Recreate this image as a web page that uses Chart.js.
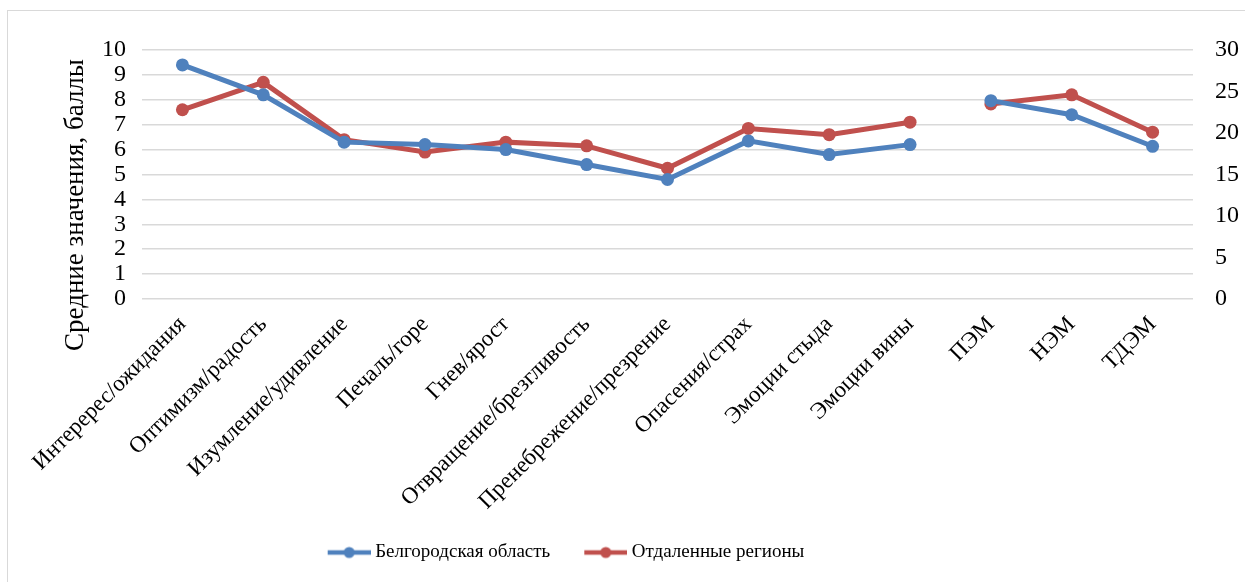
<!DOCTYPE html>
<html lang="ru">
<head>
<meta charset="utf-8">
<title>Средние значения эмоций</title>
<script src="https://cdn.jsdelivr.net/npm/chart.js@4/dist/chart.umd.min.js"></script>
<style>
  html, body { margin: 0; padding: 0; background: #fff; overflow: hidden; }
  #wrap { position: relative; width: 1245px; height: 582px; }
  #frame { position: absolute; left: 7px; top: 10px; width: 1400px; height: 800px;
           border: 1.5px solid #d9d9d9; box-sizing: border-box; }
  canvas { position: absolute; left: 0; top: 0; }
</style>
</head>
<body>
<div id="wrap">
  <div id="frame"></div>
  <canvas id="chart" width="1245" height="582"></canvas>
</div>
<script>
// categories along the x axis
const categories = [
  'Интеререс/ожидания', 'Оптимизм/радость', 'Изумление/удивление', 'Печаль/горе',
  'Гнев/ярост', 'Отвращение/брезгливость', 'Пренебрежение/презрение', 'Опасения/страх',
  'Эмоции стыда', 'Эмоции вины', 'ПЭМ', 'НЭМ', 'ТДЭМ'
];
// single emotions, left axis (0–10)
const belgorodEmotions = [9.4, 8.2, 6.3, 6.2, 6.0, 5.4, 4.8, 6.35, 5.8, 6.2];
const remoteEmotions   = [7.6, 8.7, 6.4, 5.9, 6.3, 6.15, 5.25, 6.85, 6.6, 7.1];
// summary indices, right axis (0–30)
const belgorodIndices = [23.9, 22.2, 18.4];
const remoteIndices   = [23.5, 24.6, 20.1];

const seriesNames  = ['Белгородская область', 'Отдаленные регионы'];
const seriesColors = ['#4f81bd', '#c0504d'];

const FONT = '"Liberation Serif", "Times New Roman", serif';
Chart.defaults.font.family = FONT;
Chart.defaults.color = '#000';

const gap = n => Array(n).fill(null);
const leftPart  = vals => vals.concat(gap(categories.length - vals.length));
const rightPart = vals => gap(categories.length - vals.length).concat(vals);

function lineDataset(label, color, data, axis) {
  return {
    label, data, yAxisID: axis,
    borderColor: color, backgroundColor: color,
    borderWidth: 5, pointRadius: 6.5, pointHoverRadius: 6.5,
    pointBorderWidth: 0, tension: 0, spanGaps: false
  };
}

// legend icon: a short line with a dot in the middle
function legendIcon(color) {
  const c = document.createElement('canvas');
  c.width = 72; c.height = 14;
  const g = c.getContext('2d');
  g.strokeStyle = color; g.lineWidth = 4.5;
  g.beginPath(); g.moveTo(29, 7); g.lineTo(72, 7); g.stroke();
  g.fillStyle = color;
  g.beginPath(); g.arc(50.5, 7, 5.5, 0, Math.PI * 2); g.fill();
  return c;
}
const icons = seriesColors.map(legendIcon);

// vertical axis title, drawn by hand so it can sit lower than the axis centre
const axisTitle = {
  id: 'axisTitle',
  afterDraw(chart) {
    const ctx = chart.ctx;
    ctx.save();
    ctx.translate(76, 205);
    ctx.rotate(-Math.PI / 2);
    ctx.font = '27px ' + FONT;
    ctx.fillStyle = '#000';
    ctx.textAlign = 'center';
    ctx.textBaseline = 'middle';
    ctx.fillText('Средние значения, баллы', 0, 0);
    ctx.restore();
  }
};

// legend sits left of centre
const legendShift = {
  id: 'legendShift',
  afterLayout(chart) {
    const lg = chart.legend;
    lg.right = lg.left + 1108;
    lg.width = lg.right - lg.left;
  }
};

new Chart(document.getElementById('chart'), {
  type: 'line',
  data: {
    labels: categories,
    datasets: [
      lineDataset(seriesNames[0], seriesColors[0], leftPart(belgorodEmotions), 'y'),
      lineDataset(seriesNames[1], seriesColors[1], leftPart(remoteEmotions), 'y'),
      lineDataset(seriesNames[0], seriesColors[0], rightPart(belgorodIndices), 'y1'),
      lineDataset(seriesNames[1], seriesColors[1], rightPart(remoteIndices), 'y1')
    ]
  },
  options: {
    responsive: false,
    animation: false,
    events: [],
    layout: { padding: { top: 50, right: 0, bottom: 10, left: 0 } },
    plugins: {
      tooltip: { enabled: false },
      legend: {
        position: 'bottom',
        labels: {
          usePointStyle: true,
          pointStyleWidth: 62,
          padding: 10,
          font: { size: 19 },
          color: '#000',
          generateLabels(chart) {
            return Chart.defaults.plugins.legend.labels.generateLabels(chart)
              .filter(item => item.datasetIndex < 2)
              .map(item => Object.assign(item, { pointStyle: icons[item.datasetIndex] }));
          }
        }
      }
    },
    scales: {
      x: {
        offset: true,
        grid: { display: false },
        border: { display: false },
        ticks: { autoSkip: false, maxRotation: 45, minRotation: 45, padding: 4, font: { size: 23 } },
        afterFit(s) { s.height = 234; }
      },
      y: {
        position: 'left',
        min: 0, max: 10,
        grid: { color: '#d9d9d9', lineWidth: 1.5, drawTicks: false },
        border: { display: false },
        ticks: { stepSize: 1, autoSkip: false, padding: 16, font: { size: 24 } },
        afterFit(s) { s.width = 142; }
      },
      y1: {
        position: 'right',
        min: 0, max: 30,
        grid: { display: false, drawTicks: false },
        border: { display: false },
        ticks: { stepSize: 5, autoSkip: false, padding: 22, font: { size: 24 } },
        afterFit(s) { s.width = 52; }
      }
    }
  },
  plugins: [axisTitle, legendShift]
});
</script>
</body>
</html>
